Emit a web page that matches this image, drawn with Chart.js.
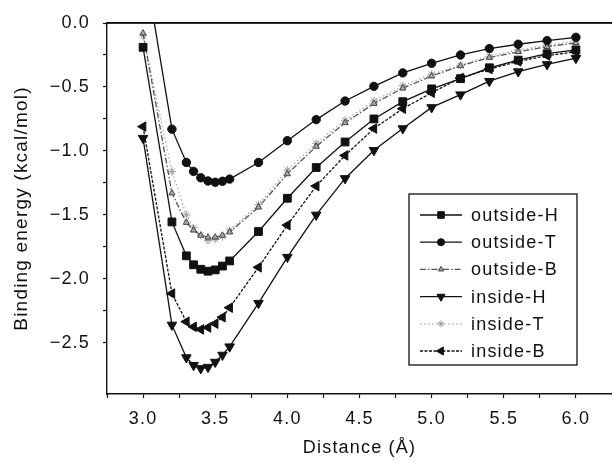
<!DOCTYPE html>
<html>
<head>
<meta charset="utf-8">
<script src="https://cdn.jsdelivr.net/npm/chart.js@4/dist/chart.umd.min.js"></script>
<style>
  html, body { margin: 0; padding: 0; background: #fff; }
  #wrap { width: 612px; height: 464px; }
</style>
</head>
<body>
<div id="wrap"><canvas id="chart" width="612" height="464"></canvas></div>
<script>
// distances (Å) and binding energies (kcal/mol)
const distance = [3.0, 3.2, 3.3, 3.35, 3.4, 3.45, 3.5, 3.55, 3.6, 3.8, 4.0, 4.2, 4.4, 4.6, 4.8, 5.0, 5.2, 5.4, 5.6, 5.8, 6.0];
const outsideH = [-0.19, -1.555, -1.82, -1.89, -1.925, -1.94, -1.93, -1.90, -1.86, -1.63, -1.37, -1.13, -0.93, -0.75, -0.615, -0.515, -0.435, -0.35, -0.29, -0.24, -0.21];
const outsideT = [0.53, -0.83, -1.09, -1.16, -1.21, -1.235, -1.245, -1.237, -1.22, -1.09, -0.92, -0.755, -0.61, -0.495, -0.39, -0.315, -0.25, -0.2, -0.166, -0.138, -0.112];
const outsideB = [-0.08, -1.33, -1.56, -1.62, -1.66, -1.675, -1.675, -1.66, -1.635, -1.44, -1.18, -0.965, -0.78, -0.63, -0.51, -0.415, -0.335, -0.27, -0.225, -0.185, -0.155];
const insideH = [-0.90, -2.36, -2.615, -2.675, -2.70, -2.69, -2.65, -2.595, -2.53, -2.19, -1.83, -1.50, -1.215, -0.995, -0.825, -0.66, -0.56, -0.455, -0.38, -0.324, -0.275];
const insideT = [-0.10, -1.16, -1.50, -1.60, -1.66, -1.70, -1.69, -1.67, -1.62, -1.42, -1.15, -0.94, -0.76, -0.61, -0.49, -0.40, -0.33, -0.26, -0.21, -0.175, -0.14];
const insideB = [-0.81, -2.115, -2.335, -2.375, -2.395, -2.38, -2.35, -2.30, -2.225, -1.91, -1.58, -1.275, -1.035, -0.825, -0.67, -0.545, -0.43, -0.36, -0.30, -0.255, -0.225];
const seriesNames = ['outside-H', 'outside-T', 'outside-B', 'inside-H', 'inside-T', 'inside-B'];

const FONT = '"Liberation Sans", Arial, Helvetica, sans-serif';
const INK = '#111';

const isStep = (v, step) => Math.abs(v / step - Math.round(v / step)) < 1e-6;

function series(label, values, style) {
    return Object.assign({
        label: label,
        data: distance.map((x, i) => ({x: x, y: values[i]})),
        borderWidth: 1.3,
        borderColor: INK,
        pointBackgroundColor: INK,
        pointBorderColor: INK,
        pointBorderWidth: 1,
        tension: 0,
        fill: false
    }, style);
}

// outward tick marks only, every 0.25
const tickGrid = {
    display: true,
    drawOnChartArea: false,
    drawTicks: true,
    tickLength: 4,
    tickWidth: 1.2,
    tickColor: c => (c.tick && isStep(c.tick.value, 0.25)) ? INK : 'rgba(0,0,0,0)'
};

function drawLegend(chart) {
    const ctx = chart.ctx;
    const x0 = 409, y0 = 194, w = 168, h = 171;
    ctx.save();
    ctx.fillStyle = '#fff';
    ctx.fillRect(x0, y0, w, h);
    ctx.strokeStyle = INK;
    ctx.lineWidth = 1.3;
    ctx.strokeRect(x0, y0, w, h);
    chart.data.datasets.forEach((ds, i) => {
        const y = 215 + i * 27.2;
        ctx.setLineDash(ds.borderDash || []);
        ctx.strokeStyle = ds.borderColor;
        ctx.lineWidth = ds.borderWidth;
        ctx.beginPath();
        ctx.moveTo(420, y);
        ctx.lineTo(462, y);
        ctx.stroke();
        ctx.setLineDash([]);
        ctx.fillStyle = ds.pointBackgroundColor;
        ctx.strokeStyle = ds.pointBorderColor;
        ctx.lineWidth = 1;
        Chart.helpers.drawPoint(ctx, {
            pointStyle: ds.pointStyle,
            rotation: ds.pointRotation || 0,
            radius: ds.pointRadius * 0.85,
            borderWidth: 1
        }, 441, y);
        ctx.fillStyle = INK;
        ctx.font = '18px ' + FONT;
        ctx.textAlign = 'left';
        ctx.textBaseline = 'middle';
        ctx.fillText(ds.label, 471, y + 1);
    });
    ctx.restore();
}

// letter spacing for the scanned look, top frame line, boxed legend
const decor = {
    id: 'decor',
    beforeDraw(chart) { chart.ctx.letterSpacing = '1.2px'; },
    beforeDatasetsDraw(chart) {
        const ctx = chart.ctx;
        const area = chart.chartArea;
        ctx.save();
        ctx.strokeStyle = INK;
        ctx.lineWidth = 1.6;
        ctx.beginPath();
        ctx.moveTo(area.left, area.top);
        ctx.lineTo(area.right, area.top);
        ctx.stroke();
        ctx.restore();
    },
    afterDraw(chart) { drawLegend(chart); }
};

new Chart(document.getElementById('chart'), {
    type: 'line',
    data: {
        datasets: [
            series(seriesNames[0], outsideH, {pointStyle: 'rect', pointRadius: 5.5}),
            series(seriesNames[1], outsideT, {pointStyle: 'circle', pointRadius: 4.2}),
            series(seriesNames[2], outsideB, {
                borderColor: '#555', borderDash: [6, 2, 1.5, 2],
                pointStyle: 'triangle', pointRadius: 3.6,
                pointBackgroundColor: '#aaa', pointBorderColor: '#444'
            }),
            series(seriesNames[3], insideH, {pointStyle: 'triangle', pointRotation: 180, pointRadius: 5.5}),
            series(seriesNames[4], insideT, {
                borderColor: '#aaa', borderDash: [1.5, 2.5],
                pointStyle: 'star', pointRadius: 4,
                pointBackgroundColor: '#ccc', pointBorderColor: '#999'
            }),
            series(seriesNames[5], insideB, {
                borderDash: [3, 1.5],
                pointStyle: 'triangle', pointRotation: -90, pointRadius: 5.5
            })
        ]
    },
    options: {
        responsive: false,
        animation: false,
        devicePixelRatio: 1,
        layout: {
            autoPadding: false,
            padding: {top: 23, left: 0, right: 0, bottom: 0}
        },
        plugins: {
            legend: {display: false},
            title: {display: false},
            tooltip: {enabled: false}
        },
        scales: {
            x: {
                type: 'linear',
                min: 2.75,
                max: 6.25,
                ticks: {
                    stepSize: 0.25,
                    autoSkip: false,
                    maxRotation: 0,
                    padding: 10,
                    color: INK,
                    font: {family: FONT, size: 18},
                    callback: v => isStep(v, 0.5) ? v.toFixed(1) : ''
                },
                grid: tickGrid,
                border: {display: true, color: INK, width: 1.4},
                title: {
                    display: true,
                    text: 'Distance (Å)',
                    color: INK,
                    font: {family: FONT, size: 18},
                    padding: {top: 0, bottom: 5}
                },
                afterFit: s => {
                    s.height = 70;
                    s.paddingLeft = 0;
                    s.paddingRight = 0;
                }
            },
            // frame line along the top edge
            xTop: {
                type: 'linear',
                position: 'top',
                min: 2.75,
                max: 6.25,
                ticks: {display: false},
                grid: {display: false, drawTicks: false},
                border: {display: true, color: INK, width: 1.4},
                afterFit: s => {
                    s.height = 0;
                    s.paddingLeft = 0;
                    s.paddingRight = 0;
                }
            },
            y: {
                min: -2.9,
                max: 0,
                ticks: {
                    stepSize: 0.25,
                    autoSkip: false,
                    padding: 13,
                    color: INK,
                    font: {family: FONT, size: 18},
                    callback: v => isStep(v, 0.5) ? v.toFixed(1).replace('-', '\u2212') : ''
                },
                grid: tickGrid,
                border: {display: true, color: INK, width: 1.4},
                title: {
                    display: true,
                    text: 'Binding energy (kcal/mol)',
                    color: INK,
                    font: {family: FONT, size: 19},
                    padding: {top: 10, bottom: 0}
                },
                afterFit: s => {
                    s.width = 107;
                    s.paddingTop = 0;
                    s.paddingBottom = 0;
                }
            }
        }
    },
    plugins: [decor]
});
</script>
</body>
</html>
